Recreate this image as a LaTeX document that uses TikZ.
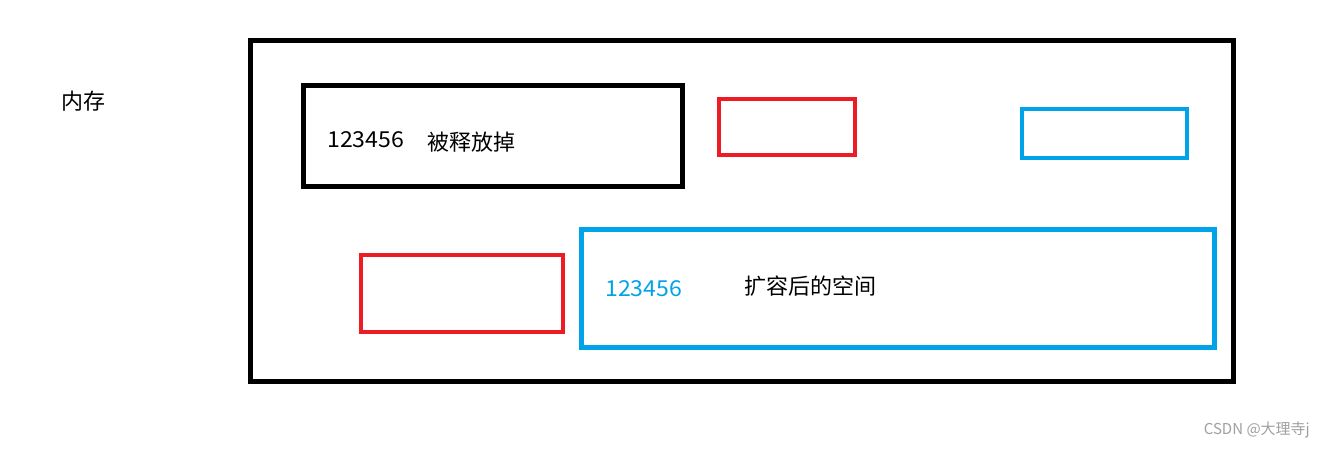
\documentclass[tikz,border=0pt]{standalone}
\usepackage{fontspec}
\setmainfont{Noto Sans CJK SC}
\newfontfamily\cjk{Noto Sans CJK SC}
\definecolor{pred}{HTML}{ED1C24}
\definecolor{pblue}{HTML}{00A2E8}
\definecolor{wm}{HTML}{A0A0A0}
\begin{document}
\begin{tikzpicture}[x=1pt,y=-1pt,
  box/.style={draw, inner sep=0pt, line width=5pt},
  redbox/.style={draw=pred, inner sep=0pt, line width=4pt},
  bluebox/.style={draw=pblue, inner sep=0pt, line width=4pt},
  lbl/.style={inner sep=0pt, anchor=west, font=\cjk\fontsize{22}{24}\selectfont},
  num/.style={inner sep=0pt, anchor=west, font=\cjk\fontsize{22}{24}\selectfont, xscale=1.05}]
\useasboundingbox[fill=white] (0,0) rectangle (1325,448);
\node[box, minimum width=983pt, minimum height=340.5pt] (mem) at (742,210.75) {};
\node[box, minimum width=379pt, minimum height=101pt] (old) at (493,136) {};
\node[redbox, minimum width=136pt, minimum height=56pt] (r1) at (787,127) {};
\node[bluebox, minimum width=165pt, minimum height=49pt] (b1) at (1104.5,133.5) {};
\node[redbox, minimum width=202pt, minimum height=77pt] (r2) at (462,293.5) {};
\node[bluebox, line width=5pt, minimum width=633pt, minimum height=117.5pt] (new) at (897.5,288.25) {};
\node[lbl] (memlbl) at (61,101) {内存};
\node[num] (oldnum) at (327,140) {123456};
\node[lbl] (oldtxt) at (427,142) {被释放掉};
\node[num, text=pblue] (newnum) at (605,289) {123456};
\node[lbl] (newtxt) at (744,286) {扩容后的空间};
\node[inner sep=0pt, anchor=east, text=wm, font=\cjk\fontsize{15}{17}\selectfont] (wmk) at (1310,430) {CSDN @大理寺j};
\end{tikzpicture}
\end{document}
